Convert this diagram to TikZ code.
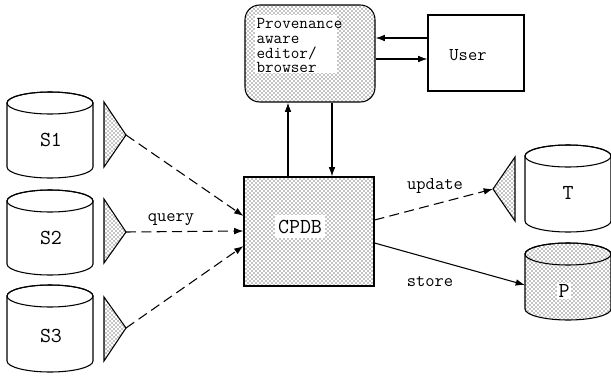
\documentclass[tikz,border=0pt]{standalone}
\usetikzlibrary{patterns,arrows.meta}
\pgfdeclarepatternformonly{pdots}{\pgfqpoint{-1pt}{-1pt}}{\pgfqpoint{4pt}{4pt}}{\pgfqpoint{3pt}{3pt}}{%
  \pgfpathcircle{\pgfqpoint{0pt}{0pt}}{.5pt}%
  \pgfpathcircle{\pgfqpoint{1.5pt}{1.5pt}}{.5pt}%
  \pgfusepath{fill}}
\newcommand\dbcyl[6]{% x1, x2, top centre y, bottom centre y, x radius, style
  \draw[#6] (#1,#3) -- (#1,#4) arc[start angle=180,end angle=360,x radius=#5,y radius=11]
    -- (#2,#3) arc[start angle=0,end angle=180,x radius=#5,y radius=11] -- cycle;
  \draw ({(#1+#2)/2},#3) ellipse[x radius=#5,y radius=11];
}
\begin{document}
\begin{tikzpicture}[x=0.75pt,y=0.75pt,line width=0.8pt,
  dotfill/.style={pattern=pdots,pattern color=black},
  arr/.style={-{Latex[length=7pt,width=5pt]}},
  dsh/.style={dash pattern=on 7.5pt off 4pt},
  lbl/.style={font=\ttfamily\fontsize{13.5}{13.5}\selectfont,inner sep=0pt},
  big/.style={font=\ttfamily\fontsize{16}{16}\selectfont,inner sep=0pt},
  plain/.style={fill=white}]
\useasboundingbox (0,0) rectangle (611,-379);
% source databases
\dbcyl{7}{93}{-103}{-167}{43}{plain}
\dbcyl{7}{93}{-201}{-264}{43}{plain}
\dbcyl{7}{93}{-296}{-361}{43}{plain}
\node[big] (s1) at (51,-140) {S1};
\node[big] (s2) at (51,-238) {S2};
\node[big] (s3) at (51,-336) {S3};
% target and provenance databases
\dbcyl{525}{611}{-156}{-221}{43}{plain}
\dbcyl{525}{611}{-254}{-309}{43}{dotfill}
\node[big] (t) at (568,-193) {T};
\node[big,fill=white,inner sep=1pt] (p) at (564,-291) {P};
% wrapper triangles
\draw[dotfill] (104,-102) -- (104,-167) -- (126,-135) -- cycle;
\draw[dotfill] (104,-199) -- (104,-263) -- (126,-232) -- cycle;
\draw[dotfill] (104,-297) -- (104,-361) -- (126,-328) -- cycle;
\draw[dotfill] (515,-157) -- (515,-221) -- (493,-189) -- cycle;
\coordinate (w1) at (126,-135);
\coordinate (w2) at (126,-232);
\coordinate (w3) at (126,-328);
\coordinate (wt) at (493,-189);
\coordinate (pin) at (525,-285);
% CPDB
\node[draw,dotfill,minimum width=130*0.75pt,minimum height=109*0.75pt,inner sep=0pt] (cpdb) at (309,-231.5) {};
\node[big,fill=white,minimum width=50*0.75pt,minimum height=23*0.75pt] (cpdbtext) at (300,-226.5) {CPDB};
% editor
\node[draw,dotfill,rounded corners=11pt,minimum width=130*0.75pt,minimum height=97*0.75pt,inner sep=0pt] (prov) at (310,-53.5) {};
\fill[white] (255,-15) rectangle (337,-73);
\node[anchor=north west,inner sep=0pt,align=left,font=\ttfamily\fontsize{12.5}{11}\selectfont] (provtext) at (256,-18) {Provenance\\aware\\editor/\\browser};
% user
\node[draw,minimum width=96*0.75pt,minimum height=76*0.75pt,inner sep=0pt] (user) at (476,-53) {};
\node[lbl] (usertext) at (468,-55) {User};
% connectors
\coordinate (ua) at (0,-38);
\coordinate (ub) at (0,-59);
\coordinate (va) at (288,0);
\coordinate (vb) at (332,0);
\coordinate (q1) at (0,-216);
\coordinate (q2) at (0,-231);
\coordinate (q3) at (0,-246);
\coordinate (e1) at (0,-220);
\coordinate (e2) at (0,-243);
\draw[arr] (user.west |- ua) -- (prov.east |- ua);
\draw[arr] (prov.east |- ub) -- (user.west |- ub);
\draw[arr] (cpdb.north -| va) -- (prov.south -| va);
\draw[arr] (prov.south -| vb) -- (cpdb.north -| vb);
\draw[arr,dsh] (w1) -- (cpdb.west |- q1);
\draw[arr,dsh] (w2) -- (cpdb.west |- q2);
\draw[arr,dsh] (w3) -- (cpdb.west |- q3);
\draw[arr,dsh] (cpdb.east |- e1) -- (wt);
\draw[arr] (cpdb.east |- e2) -- (pin);
% labels
\node[lbl,anchor=base] (query) at (171,-221) {query};
\node[lbl,anchor=base] (update) at (435,-189) {update};
\node[lbl,anchor=base] (store) at (430,-286) {store};
\end{tikzpicture}
\end{document}
